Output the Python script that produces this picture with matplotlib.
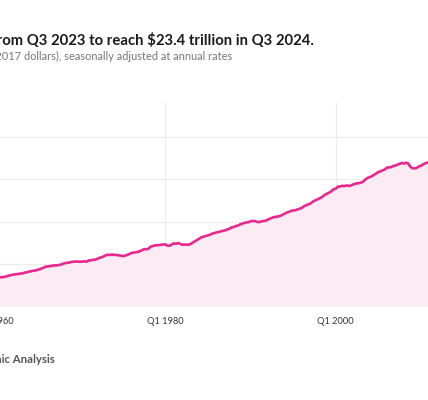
import numpy as np
import pandas as pd
import matplotlib
matplotlib.use("Agg")
import matplotlib.pyplot as plt

plt.rcParams['font.family'] = ['Lato', 'DejaVu Sans']

# real GDP, trillions of chained 2017 dollars, quarterly from Q1 1947
start_year = 1947
gdp = [
    2.183, 2.177, 2.172, 2.206,  2.240, 2.277, 2.290, 2.292,  2.261, 2.253, 2.276, 2.257,
    2.346, 2.418, 2.511, 2.559,  2.594, 2.639, 2.693, 2.699,  2.728, 2.734, 2.754, 2.844,
    2.897, 2.919, 2.903, 2.859,  2.845, 2.846, 2.880, 2.937,  3.021, 3.070, 3.111, 3.130,
    3.118, 3.144, 3.141, 3.193,  3.213, 3.206, 3.237, 3.204,  3.121, 3.141, 3.214, 3.289,
    3.352, 3.428, 3.430, 3.440,  3.517, 3.498, 3.515, 3.470,  3.494, 3.553, 3.621, 3.692,
    3.758, 3.792, 3.839, 3.851,  3.893, 3.937, 4.024, 4.050,  4.136, 4.181, 4.246, 4.259,
    4.362, 4.417, 4.515, 4.619,  4.732, 4.748, 4.788, 4.828,  4.870, 4.873, 4.919, 4.956,
    5.058, 5.142, 5.182, 5.202,  5.284, 5.300, 5.335, 5.309,  5.301, 5.308, 5.357, 5.300,
    5.444, 5.473, 5.518, 5.531,  5.633, 5.760, 5.815, 5.912,  6.058, 6.125, 6.093, 6.150,
    6.097, 6.112, 6.054, 6.030,  5.957, 6.001, 6.102, 6.185,  6.324, 6.370, 6.405, 6.451,
    6.528, 6.654, 6.774, 6.775,  6.796, 7.059, 7.130, 7.226,  7.239, 7.246, 7.300, 7.319,
    7.342, 7.190, 7.182, 7.316,  7.459, 7.404, 7.492, 7.411,  7.296, 7.329, 7.301, 7.304,
    7.400, 7.568, 7.720, 7.881,  8.035, 8.174, 8.252, 8.320,  8.401, 8.475, 8.604, 8.668,
    8.749, 8.789, 8.873, 8.920,  8.986, 9.083, 9.162, 9.319,  9.368, 9.491, 9.546, 9.673,
    9.772, 9.846, 9.919, 9.939,  10.047, 10.084, 10.091, 9.999,  9.952, 10.030, 10.080, 10.115,
    10.236, 10.347, 10.450, 10.559,  10.576, 10.638, 10.689, 10.834,  10.939, 11.087, 11.152, 11.280,
    11.320, 11.354, 11.450, 11.528,  11.614, 11.808, 11.914, 12.038,  12.115, 12.317, 12.471, 12.577,
    12.704, 12.821, 12.983, 13.192,  13.316, 13.427, 13.605, 13.828,  13.878, 14.131, 14.145, 14.230,
    14.183, 14.272, 14.215, 14.254,  14.373, 14.461, 14.520, 14.538,  14.614, 14.744, 14.989, 15.163,
    15.249, 15.367, 15.513, 15.671,  15.845, 15.923, 16.048, 16.137,  16.354, 16.396, 16.421, 16.562,
    16.612, 16.713, 16.810, 16.915,  16.843, 16.943, 16.854, 16.485,  16.298, 16.269, 16.326, 16.503,
    16.583, 16.743, 16.872, 16.961,  16.921, 17.035, 17.031, 17.223,  17.367, 17.445, 17.470, 17.490,
    17.662, 17.710, 17.860, 18.016,  17.954, 18.186, 18.407, 18.500,  18.667, 18.782, 18.857, 18.892,
    19.002, 19.063, 19.198, 19.304,  19.398, 19.507, 19.661, 19.882,  20.044, 20.150, 20.276, 20.305,
    20.415, 20.585, 20.818, 20.951,  20.666, 19.035, 20.512, 20.724,  21.002, 21.289, 21.505, 21.848,
    21.739, 21.708, 21.851, 22.019,  22.123, 22.225, 22.491, 22.679,  22.769, 22.941, 23.400,
]
tick_years = [1960, 1980, 2000, 2020]
tick_labels = ['Q1 1960', 'Q1 1980', 'Q1 2000', 'Q1 2020']
grid_values = [0, 5, 10, 15, 20]

t = start_year + np.arange(len(gdp)) / 4.0

W, H = 428, 400
fig = plt.figure(figsize=(W / 100, H / 100), dpi=100)

# the view is a crop of a wider chart, so the axes run past both edges
left_px, right_px = 165.3 - 33 * 8.52, 165.3 + 44.5 * 8.52
top_px, bot_px = 102.7, 306.8
ax = fig.add_axes([left_px / W, 1 - bot_px / H, (right_px - left_px) / W, (bot_px - top_px) / H])

line_c = '#e8288f'
ax.fill_between(t, gdp, 0, color='#fcebf3', lw=0, zorder=1)
ax.plot(t, gdp, color=line_c, lw=1.9, zorder=3, solid_capstyle='round')

ax.set_xlim(1947, 2024.5)
ax.set_ylim(0, 24)
ax.set_yticks(grid_values)
ax.set_xticks(tick_years)
ax.set_xticklabels(tick_labels)
ax.grid(True, color='#ececec', lw=0.8, zorder=0)
ax.set_axisbelow(True)
ax.tick_params(axis='x', length=0, pad=7, labelsize=6.7, labelcolor='#333333')
ax.tick_params(axis='y', length=0, labelleft=False)
for s in ax.spines.values():
    s.set_visible(False)

fig.text(313.5 / W, 1 - 45.5 / H, 'Real GDP grew 2.7% from Q3 2023 to reach $23.4 trillion in Q3 2024.',
         ha='right', va='baseline', fontsize=10.7, fontweight='bold', color='#1a1a1a')
fig.text(232 / W, 1 - 60.5 / H, 'Billions of chained (2017 dollars), seasonally adjusted at annual rates',
         ha='right', va='baseline', fontsize=7.9, color='#777777')
fig.text(54.5 / W, 1 - 363 / H, 'Source: U.S. Bureau of Economic Analysis',
         ha='right', va='baseline', fontsize=8.2, fontweight='bold', color='#555555')

fig.savefig('out.png', dpi=100)
